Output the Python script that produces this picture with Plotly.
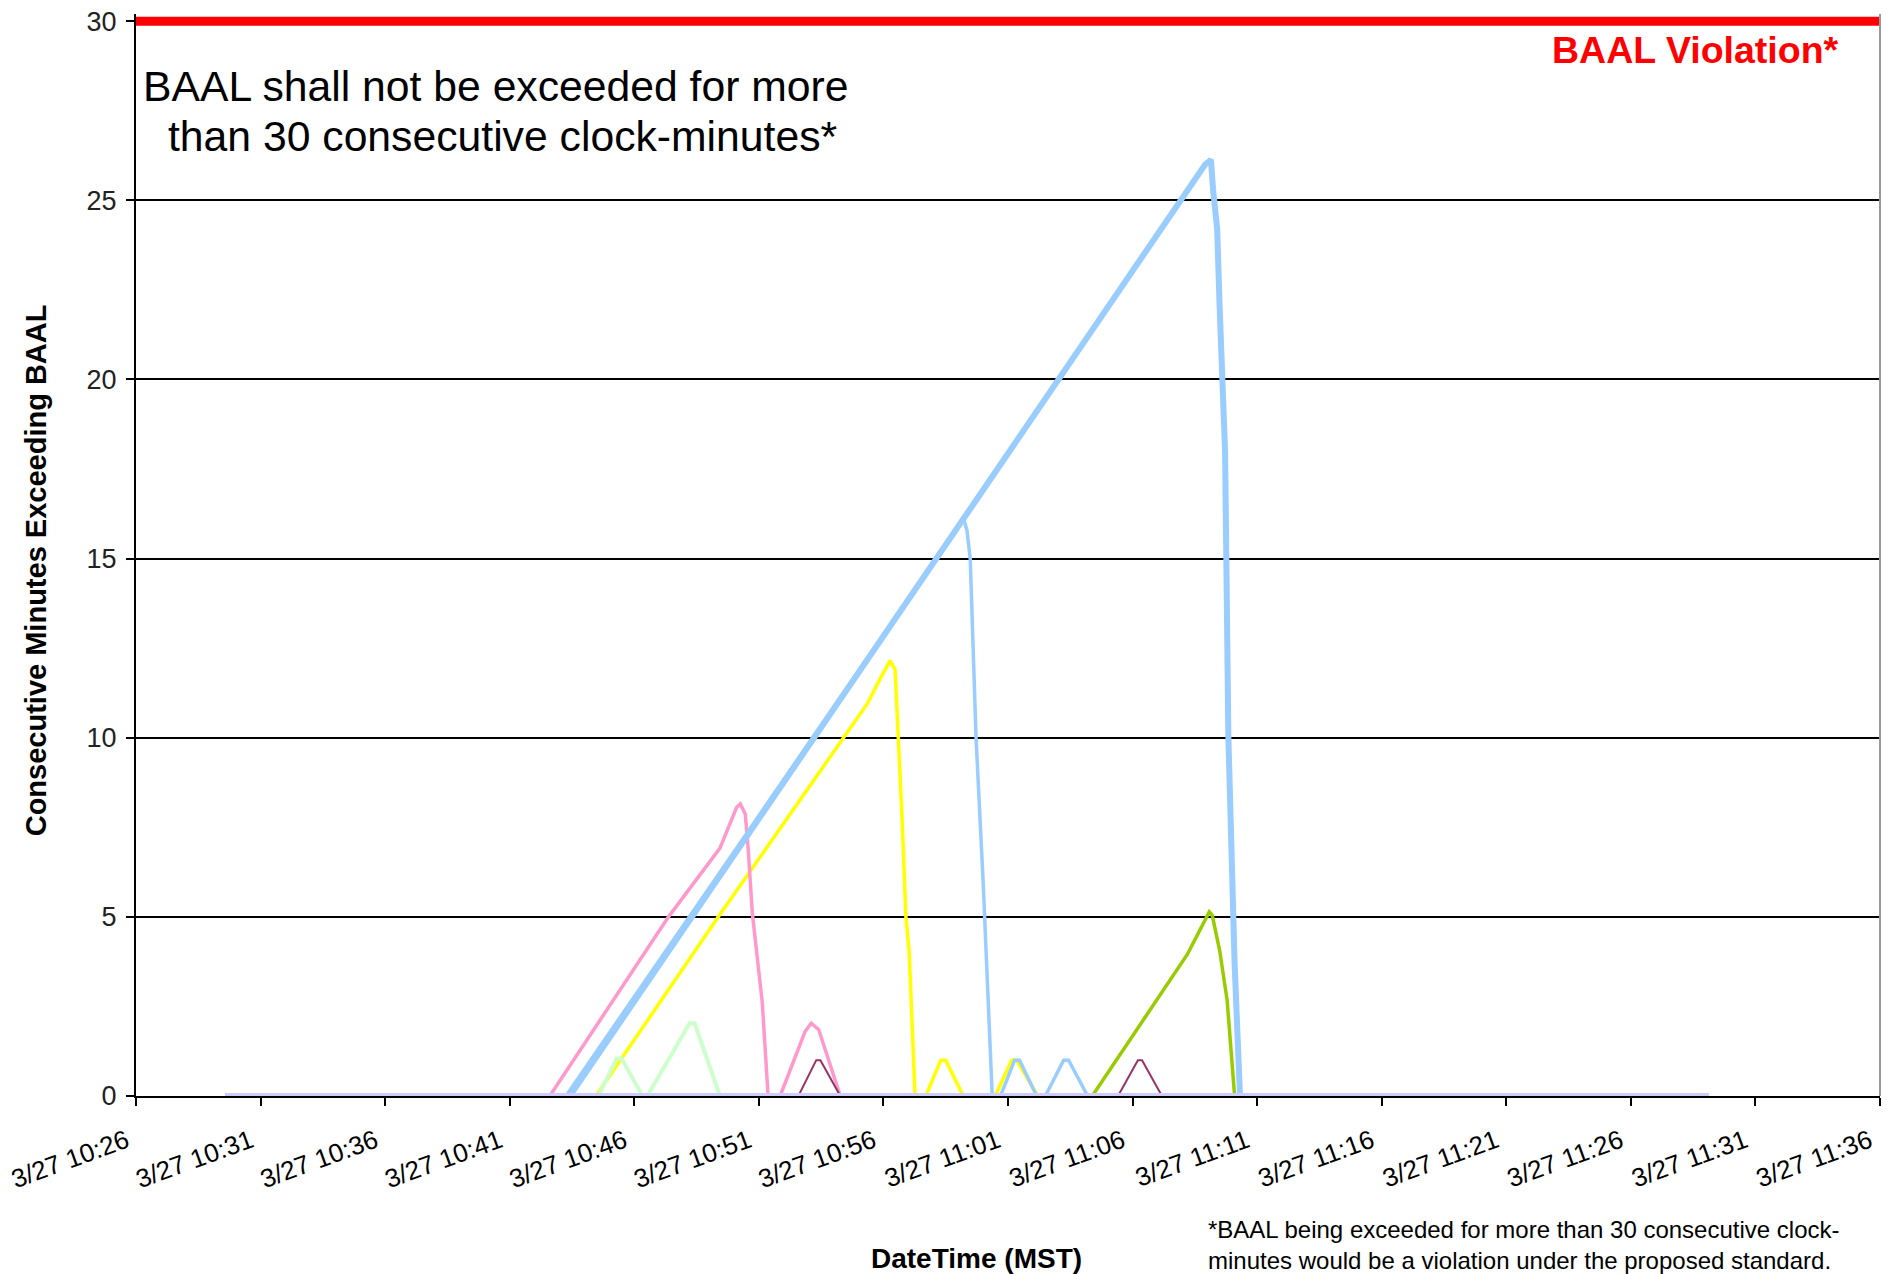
import plotly.graph_objects as go

DATE = "2010-03-27"

# ---- data (time of day, consecutive minutes exceeding BAAL) ----
thick_blue_t = ["10:29:34", "10:43:24", "11:08:55", "11:09:09", "11:09:14", "11:09:24", "11:09:30",
                "11:09:36", "11:09:43", "11:09:51", "11:10:06", "11:10:19", "11:29:09"]
thick_blue_v = [0, 0, 26.0, 26.13, 25.3, 24.2, 22.0, 19.9, 18.0, 10.0, 3.7, 0, 0]

thin_blue_t = ["10:29:34", "10:43:15", "10:59:03", "10:59:12", "10:59:21", "10:59:29", "10:59:43",
               "11:00:00", "11:00:22", "11:00:42", "11:01:16", "11:01:28", "11:02:09", "11:02:30",
               "11:03:14", "11:03:26", "11:04:12", "11:29:09"]
thin_blue_v = [0, 0, 15.96, 16.15, 15.8, 15.0, 10.0, 6.0, 0, 0, 1.0, 1.0, 0, 0, 1.0, 1.0, 0, 0]

pink_t = ["10:29:34", "10:42:36", "10:47:22", "10:49:26", "10:50:06", "10:50:15", "10:50:27",
          "10:50:34", "10:50:44", "10:50:56", "10:51:08", "10:51:22", "10:51:51", "10:52:51",
          "10:53:06", "10:53:24", "10:54:16", "11:29:09"]
pink_v = [0, 0, 5.0, 6.92, 8.05, 8.15, 7.87, 6.9, 5.1, 3.86, 2.6, 0, 0, 1.8, 2.03, 1.85, 0, 0]

yellow_t = ["10:29:34", "10:44:27", "10:49:22", "10:55:21", "10:55:52", "10:56:16", "10:56:28",
            "10:56:35", "10:56:45", "10:56:54", "10:57:02", "10:57:16", "10:57:42", "10:58:18",
            "10:58:30", "10:59:12", "11:00:29", "11:01:09", "11:01:21", "11:02:12", "11:29:09"]
yellow_v = [0, 0, 5.0, 10.95, 11.65, 12.15, 11.9, 10.26, 7.7, 5.0, 4.0, 0, 0, 1.0, 1.0, 0,
            0, 1.0, 1.0, 0, 0]

light_green_t = ["10:29:34", "10:44:33", "10:45:17", "10:45:29", "10:46:19", "10:46:31",
                 "10:48:13", "10:48:25", "10:49:26", "11:29:09"]
light_green_v = [0, 0, 1.05, 1.05, 0, 0, 2.03, 2.03, 0, 0]

maroon_t = ["10:29:34", "10:52:35", "10:53:18", "10:53:28", "10:54:16", "11:05:25", "11:06:13",
            "11:06:23", "11:07:11", "11:29:09"]
maroon_v = [0, 0, 1.0, 1.0, 0, 0, 1.0, 1.0, 0, 0]

olive_t = ["10:29:34", "11:04:23", "11:08:12", "11:09:05", "11:09:12", "11:09:30", "11:09:48",
           "11:10:06", "11:29:09"]
olive_v = [0, 0, 3.95, 5.14, 5.05, 4.06, 2.67, 0, 0]

baseline_t = ["10:29:34", "11:29:09"]
baseline_v = [0, 0]

limit_t = ["10:25:00", "11:37:00"]
limit_v = [30, 30]

tick_times = ["10:26", "10:31", "10:36", "10:41", "10:46", "10:51", "10:56", "11:01", "11:06",
              "11:11", "11:16", "11:21", "11:26", "11:31", "11:36"]
tick_labels = ["3/27 " + t for t in tick_times]
y_ticks = [0, 5, 10, 15, 20, 25, 30]


def ts(t):
    if len(t) == 5:
        t = t + ":00"
    return DATE + " " + t


SANS = "Liberation Sans, Arial, sans-serif"

fig = go.Figure()

series = [
    (yellow_t, yellow_v, "#FFFF00", 3.5),
    (pink_t, pink_v, "#FF99CC", 3.5),
    (light_green_t, light_green_v, "#CCFFCC", 4),
    (maroon_t, maroon_v, "#993366", 2),
    (olive_t, olive_v, "#99CC00", 3.5),
    (thick_blue_t, thick_blue_v, "#99CCFF", 6),
    (thin_blue_t, thin_blue_v, "#99CCFF", 3.5),
    (baseline_t, baseline_v, "#CCCCFF", 6),
    (limit_t, limit_v, "#FF0000", 9),
]
for t, v, c, w in series:
    fig.add_trace(go.Scatter(x=[ts(s) for s in t], y=v, mode="lines",
                             line=dict(color=c, width=w), hoverinfo="skip", showlegend=False))

fig.update_layout(
    width=1887, height=1274, autosize=False,
    margin=dict(l=136, r=7, t=8, b=178, pad=0),
    paper_bgcolor="white", plot_bgcolor="white",
    font=dict(family=SANS, color="black"),
    xaxis=dict(type="date", range=[ts("10:25:59"), ts("11:36:01")],
               tickvals=[ts(t) for t in tick_times], ticktext=tick_labels,
               tickangle=-20, ticks="outside", ticklen=8, tickwidth=2, tickcolor="black",
               ticklabeloverflow="allow", ticklabelstandoff=10, ticklabelshift=-10,
               showline=True, linecolor="black", linewidth=2, showgrid=False, zeroline=False,
               tickfont=dict(family=SANS, size=26, color="black")),
    yaxis=dict(range=[0, 30.2], tickvals=y_ticks, ticks="outside", ticklen=8, tickwidth=2,
               tickcolor="black", showline=True, linecolor="black", linewidth=2,
               ticklabelstandoff=4,
               showgrid=True, gridcolor="black", gridwidth=2, zeroline=False,
               tickfont=dict(family=SANS, size=27, color="#222")),
    shapes=[dict(type="line", xref="paper", yref="paper", x0=1, x1=1, y0=0, y1=1,
                 line=dict(color="#999999", width=2))],
    annotations=[
        dict(text="Consecutive Minutes Exceeding BAAL", xref="paper", yref="paper",
             x=-0.0575, y=0.4856, textangle=-90, showarrow=False, xanchor="center", yanchor="middle",
             font=dict(family=SANS, size=29, color="black", weight="bold")),
        dict(text="DateTime (MST)", xref="paper", yref="paper", x=0.4822, y=-0.1501,
             showarrow=False, xanchor="center", yanchor="middle",
             font=dict(family=SANS, size=28, color="black", weight="bold")),
        dict(text="BAAL shall not be exceeded for more",
             xref="paper", yref="paper", x=0.2065, y=0.9330, showarrow=False,
             xanchor="center", yanchor="middle",
             font=dict(family=SANS, size=42.7, color="black")),
        dict(text="than 30 consecutive clock-minutes*",
             xref="paper", yref="paper", x=0.2100, y=0.8876, showarrow=False,
             xanchor="center", yanchor="middle",
             font=dict(family=SANS, size=42.7, color="black")),
        dict(text="<b>BAAL Violation*</b>", xref="paper", yref="paper", x=0.9776, y=0.9670,
             showarrow=False, xanchor="right", yanchor="middle",
             font=dict(family=SANS, size=37.5, color="#FF0000")),
        dict(text="*BAAL being exceeded for more than 30 consecutive clock-<br>minutes would be a violation under the proposed standard.",
             xref="paper", yref="paper", x=0.6135, y=-0.1380, showarrow=False,
             xanchor="left", yanchor="middle", align="left",
             font=dict(family=SANS, size=24, color="black")),
    ],
)

fig.write_html("out.html", config={"displayModeBar": False},
               post_script="document.body.style.margin='0';document.body.style.overflow='hidden';")
